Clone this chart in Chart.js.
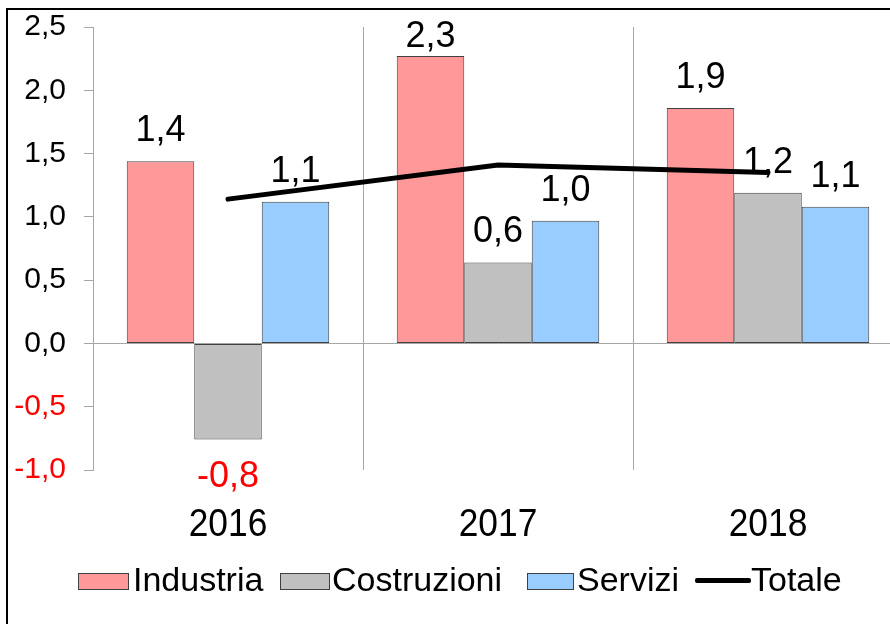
<!DOCTYPE html>
<html>
<head>
<meta charset="utf-8">
<script src="https://cdn.jsdelivr.net/npm/chart.js@4.4.1/dist/chart.umd.min.js"></script>
<style>
  html, body { margin: 0; padding: 0; background: #fff; overflow: hidden; }
  body { width: 890px; height: 624px; position: relative; }
  #frame { position: absolute; left: 6px; top: 8px; width: 1000px; height: 1000px; border: 2px solid #000; }
  #wrap { position: absolute; left: 0; top: 0; width: 930px; height: 624px; }
  .lg { position: absolute; font-family: 'Liberation Sans', Arial, sans-serif; font-size: 34px; color: #000;
        line-height: 1; white-space: nowrap; }
  .lg-box { position: absolute; height: 15px; border: 1px solid #404040; }
  .lg-line { position: absolute; height: 5px; background: #000; border-radius: 2px; }
</style>
</head>
<body>
<div id="frame"></div>
<div id="wrap"><canvas id="chart"></canvas></div>
<div id="legend"></div>
<script>
// Valori (variazioni %)
const years = ['2016', '2017', '2018'];
const industria = [1.44, 2.27, 1.86];
const costruzioni = [-0.76, 0.64, 1.19];
const servizi = [1.12, 0.97, 1.08];
const totale = [1.14, 1.41, 1.35];
const yTicks = [-1.0, -0.5, 0.0, 0.5, 1.0, 1.5, 2.0, 2.5];

const C_IND = '#FF9999', C_COS = '#C0C0C0', C_SER = '#99CCFF';
const GRID = '#A6A6A6';
const fmt = v => v.toFixed(1).replace('.', ',');

// ── etichette sopra/sotto le barre ──
const barLabels = {
    id: 'barLabels',
    afterDatasetsDraw(chart) {
        const ctx = chart.ctx;
        const top = chart.chartArea.top;
        ctx.save();
        ctx.font = '36px "Liberation Sans", Arial, sans-serif';
        ctx.textAlign = 'center';
        ctx.textBaseline = 'alphabetic';
        chart.data.datasets.forEach((ds, i) => {
            if (ds.type === 'line') return;
            chart.getDatasetMeta(i).data.forEach((el, j) => {
                const v = ds.data[j];
                if (v < 0) {
                    ctx.fillStyle = '#FF0000';
                    ctx.fillText(fmt(v), el.x, el.y + 47);
                } else {
                    ctx.fillStyle = '#000';
                    ctx.fillText(fmt(v), el.x, Math.max(el.y - 20, top + 20));
                }
            });
        });
        ctx.restore();
    }
};

// ── anni sotto l'asse, carattere leggermente stretto ──
const narrowYears = {
    id: 'narrowYears',
    afterDraw(chart) {
        const sx = chart.scales.x;
        const ctx = chart.ctx;
        ctx.save();
        ctx.font = '38px "Liberation Sans", Arial, sans-serif';
        ctx.fillStyle = '#000';
        ctx.textAlign = 'center';
        ctx.textBaseline = 'alphabetic';
        sx.ticks.forEach((t, i) => {
            const x = sx.getPixelForTick(i);
            ctx.setTransform(0.93, 0, 0, 1, x, chart.chartArea.bottom + 66);
            ctx.fillText(sx.getLabelForValue(t.value), 0, 0);
        });
        ctx.restore();
    }
};

const barStyle = { borderColor: '#404040', borderWidth: 1, borderSkipped: false,
                   categoryPercentage: 0.75, barPercentage: 1, order: 1 };

new Chart(document.getElementById('chart'), {
    type: 'bar',
    data: {
        labels: years,
        datasets: [
            { label: 'Industria', data: industria, backgroundColor: C_IND, ...barStyle },
            { label: 'Costruzioni', data: costruzioni, backgroundColor: C_COS, ...barStyle },
            { label: 'Servizi', data: servizi, backgroundColor: C_SER, ...barStyle },
            { type: 'line', label: 'Totale', data: totale, borderColor: '#000', borderWidth: 5,
              pointRadius: 0, tension: 0, fill: false, borderCapStyle: 'round', order: 0 },
        ],
    },
    options: {
        responsive: true,
        maintainAspectRatio: false,
        animation: false,
        layout: { padding: { top: 27, left: 0, right: 27, bottom: 0 } },
        plugins: { legend: { display: false }, tooltip: { enabled: false } },
        scales: {
            x: {
                grid: { display: true, drawOnChartArea: true, drawTicks: false, color: GRID, offset: true },
                border: { display: false },
                ticks: { display: false },
                afterFit: s => { s.height = 154; s.paddingLeft = 0; s.paddingRight = 0; },
            },
            y: {
                min: -1, max: 2.5,
                afterBuildTicks: s => { s.ticks = yTicks.map(v => ({ value: v })); },
                grid: {
                    drawOnChartArea: true,
                    color: c => (c.tick && c.tick.value === 0 ? GRID : 'transparent'),
                    tickColor: GRID, tickLength: 9,
                },
                border: { display: true, color: GRID },
                ticks: {
                    padding: 18,
                    color: c => (c.tick.value < 0 ? '#FF0000' : '#000'),
                    font: { family: '"Liberation Sans", Arial', size: 30 },
                    callback: v => fmt(v),
                },
                afterFit: s => { s.width = 93; s.paddingTop = 0; s.paddingBottom = 0; },
            },
        },
    },
    plugins: [barLabels, narrowYears],
});

// ── legenda ──
const legendItems = [
    { name: 'Industria', color: C_IND, box: 78, w: 49, text: 133 },
    { name: 'Costruzioni', color: C_COS, box: 280, w: 48, text: 332 },
    { name: 'Servizi', color: C_SER, box: 527, w: 45, text: 577 },
    { name: 'Totale', line: true, box: 695, w: 56, text: 751 },
];
const lg = document.getElementById('legend');
legendItems.forEach(it => {
    const m = document.createElement('div');
    if (it.line) {
        m.className = 'lg-line';
        m.style.cssText = `left:${it.box}px;top:578px;width:${it.w}px;`;
    } else {
        m.className = 'lg-box';
        m.style.cssText = `left:${it.box}px;top:573px;width:${it.w}px;background:${it.color};`;
    }
    lg.appendChild(m);
    const t = document.createElement('div');
    t.className = 'lg';
    t.textContent = it.name;
    t.style.cssText = `left:${it.text}px;top:562px;`;
    lg.appendChild(t);
});
</script>
</body>
</html>
